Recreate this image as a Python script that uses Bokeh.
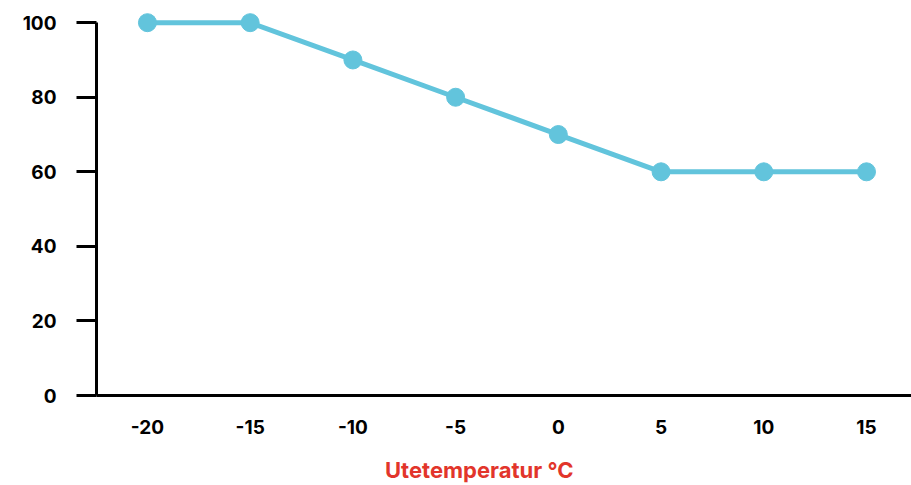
from bokeh.plotting import figure
from bokeh.models import Range1d, FixedTicker, Div
from bokeh.layouts import column
from bokeh.embed import file_html
from bokeh.resources import INLINE

temps = [-20, -15, -10, -5, 0, 5, 10, 15]
values = [100, 100, 90, 80, 70, 60, 60, 60]
y_ticks = [0, 20, 40, 60, 80, 100]
x_title = "Utetemperatur °C"

FONT = "Inter"
LINE = "#62c4dc"
RED = "#e2352b"

x0, x1 = -22.48, 17.19
p = figure(width=911, height=450, output_backend="svg", toolbar_location=None,
           x_range=Range1d(x0, x1), y_range=Range1d(0, 103),
           min_border_left=96, min_border_right=0, min_border_top=11, min_border_bottom=55)
p.outline_line_color = None
p.xgrid.visible = False
p.ygrid.visible = False

p.line(temps, values, line_color=LINE, line_width=5)
p.scatter(temps, values, size=18, fill_color=LINE, line_color=LINE)

xa = p.xaxis[0]
xa.ticker = FixedTicker(ticks=temps)
xa.major_label_overrides = {t: str(t) for t in temps}
xa.axis_line_width = 3
xa.axis_line_color = "black"
xa.major_tick_out = 0
xa.major_tick_in = 0
xa.minor_tick_out = 0
xa.minor_tick_in = 0
xa.major_label_standoff = 24
xa.major_label_text_font = FONT
xa.major_label_text_font_style = "bold"
xa.major_label_text_font_size = "19px"
xa.major_label_text_color = "black"

ya = p.yaxis[0]
ya.ticker = FixedTicker(ticks=y_ticks)
ya.major_label_overrides = {0: "0"}
ya.bounds = (0, 100)
ya.axis_line_width = 3
ya.axis_line_color = "black"
ya.major_tick_out = 20
ya.major_tick_in = 0
ya.major_tick_line_width = 3
ya.minor_tick_out = 0
ya.minor_tick_in = 0
ya.major_label_standoff = 20
ya.major_label_text_font = FONT
ya.major_label_text_font_style = "bold"
ya.major_label_text_font_size = "19px"
ya.major_label_text_color = "black"

title = Div(text=x_title, width=911, height=35,
            styles={"font-family": FONT, "font-weight": "bold", "font-size": "22px",
                    "color": RED, "padding-left": "380px", "line-height": "30px",
                    "box-sizing": "border-box"})

layout = column(p, title, spacing=0)
open("out.html", "w").write(file_html(layout, INLINE))
